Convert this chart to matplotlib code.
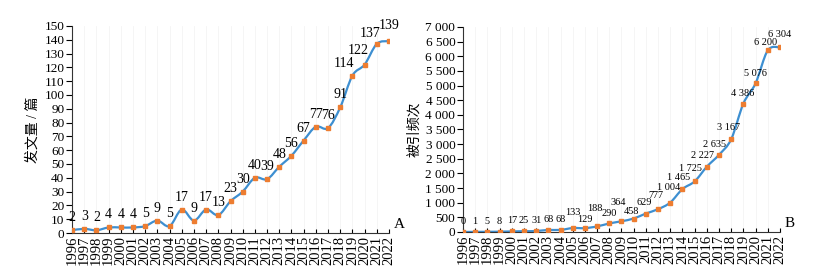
import matplotlib
matplotlib.use("Agg")
import matplotlib.pyplot as plt
from matplotlib.path import Path
from matplotlib.patches import PathPatch
from matplotlib.ticker import FuncFormatter
import numpy as np

plt.rcParams['font.family'] = ['Liberation Serif', 'Noto Sans CJK SC']

# Daten
years = list(range(1996, 2023))
papers = [2, 3, 2, 4, 4, 4, 5, 9, 5, 17, 9, 17, 13, 23, 30, 40, 39, 48, 56, 67,
          77, 76, 91, 114, 122, 137, 139]
citations = [0, 1, 5, 8, 17, 25, 31, 68, 68, 133, 129, 188, 290, 364, 458, 629,
             777, 1004, 1465, 1725, 2227, 2635, 3167, 4386, 5076, 6200, 6304]

LINE = '#3d8fd1'
MARK = '#ed7d31'

# Verschiebung der Beschriftungen (Pixel), Standard (0, 6)
offs_a = {2019: (-8, 6), 2020: (-6, 8), 2021: (-7, 4), 2022: (0, 9)}
offs_b = {2005: (0, 11), 2006: (0, 4), 2007: (-2, 13), 2008: (0, 5),
          2009: (-3, 14), 2010: (-2, 3), 2011: (-2, 7), 2012: (-2, 9),
          2013: (-2, 11), 2014: (-4, 7), 2015: (-4, 8), 2016: (-4, 7),
          2017: (-5, 6), 2018: (-3, 7), 2019: (-1, 6), 2020: (0, 5),
          2021: (-2, 3), 2022: (0, 8)}


def smooth_path(x, y):
    # Bezier-Glaettung wie in Excel
    pts = np.column_stack([np.asarray(x, float), np.asarray(y, float)])
    n = len(pts)
    verts = [pts[0]]
    codes = [Path.MOVETO]
    for i in range(n - 1):
        p0 = pts[i - 1] if i > 0 else pts[i]
        p1 = pts[i]
        p2 = pts[i + 1]
        p3 = pts[i + 2] if i + 2 < n else pts[i + 1]
        verts += [p1 + (p2 - p0) / 6, p2 - (p3 - p1) / 6, p2]
        codes += [Path.CURVE4] * 3
    return Path(verts, codes)


def sep(v, pos=None):
    return f"{int(v):,}".replace(",", " ")


fig = plt.figure(figsize=(8.25, 2.7), dpi=100)
ax1 = fig.add_axes([0.0873, 0.137, 0.3842, 0.767])
ax2 = fig.add_axes([0.5612, 0.141, 0.3842, 0.759])

for ax, vals, ymax, step, lab, letter, fs, offs in [
        (ax1, papers, 150, 10, '发文量 / 篇', 'A', 10, offs_a),
        (ax2, citations, 7000, 500, '被引频次', 'B', 7.4, offs_b)]:
    ax.add_patch(PathPatch(smooth_path(years, vals), fill=False,
                           edgecolor=LINE, lw=1.6, zorder=2))
    ax.plot(years, vals, ls='none', marker='s', ms=3, color=MARK, zorder=3)
    ax.set_xlim(1996, 2022)
    ax.set_ylim(0, ymax)
    ax.set_yticks(np.arange(0, ymax + 1, step))
    ax.set_xticks(years)
    ax.set_xticklabels([str(y) for y in years], rotation=90)
    ax.tick_params(axis='x', direction='in', length=3, pad=2, labelsize=10.5)
    ax.tick_params(axis='y', direction='out', length=4, pad=1.5, labelsize=9.5)
    for s in ['top', 'right']:
        ax.spines[s].set_visible(False)
    for s in ['left', 'bottom']:
        ax.spines[s].set_color('#333333')
    ax.set_ylabel(lab, fontsize=10, labelpad=3)
    ax.text(1.015, 0.01, letter, transform=ax.transAxes, fontsize=11,
            ha='left', va='bottom')
    for x, v in zip(years, vals):
        dx, dy = offs.get(x, (0, 6))
        ax.annotate(sep(v), (x, v), xytext=(dx, dy), textcoords='offset pixels',
                    ha='center', va='bottom', fontsize=fs)
    ax.set_axisbelow(True)
    ax.grid(axis='x', color='#f4f4f4', lw=0.6)

ax2.yaxis.set_major_formatter(FuncFormatter(sep))

fig.savefig('out.png', dpi=100)
